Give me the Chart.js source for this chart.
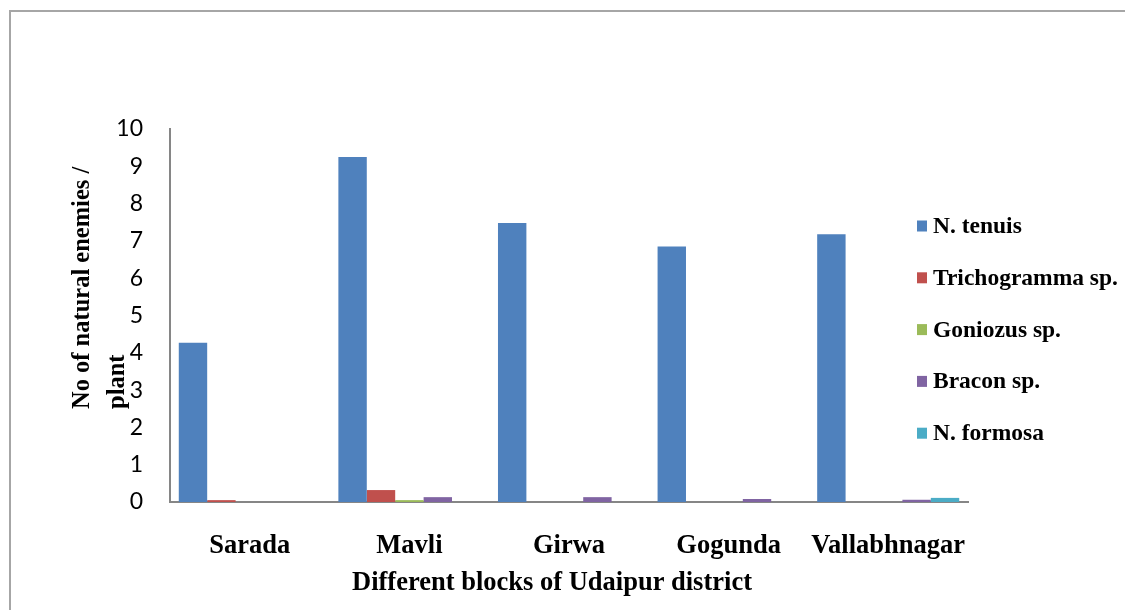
<!DOCTYPE html>
<html>
<head>
<meta charset="utf-8">
<script src="https://cdn.jsdelivr.net/npm/chart.js@4.4.0/dist/chart.umd.min.js"></script>
<style>
  html, body { margin: 0; padding: 0; background: #fff; overflow: hidden; }
  #frame { position: absolute; left: 9px; top: 10px; width: 1200px; height: 700px; border: 2px solid #a6a6a6; }
  #chart { position: absolute; left: 0; top: 0; }
</style>
</head>
<body>
<div id="frame"></div>
<canvas id="chart" width="1125" height="610"></canvas>
<script>
// ---------------------------------------------------------
// data
// ---------------------------------------------------------
const blocks = ["Sarada", "Mavli", "Girwa", "Gogunda", "Vallabhnagar"];

const nTenuis      = [4.27, 9.25, 7.48, 6.85, 7.18];
const trichogramma = [0.05, 0.32, 0, 0, 0];
const goniozus     = [0, 0.05, 0, 0, 0];
const bracon       = [0, 0.13, 0.13, 0.08, 0.06];
const nFormosa     = [0, 0, 0, 0, 0.11];

const seriesNames  = ["N. tenuis", "Trichogramma sp.", "Goniozus sp.", "Bracon sp.", "N. formosa"];
const seriesColors = ["#4F81BD", "#C0504D", "#9BBB59", "#8064A2", "#4BACC6"];
const yTicks = [0, 1, 2, 3, 4, 5, 6, 7, 8, 9, 10];

const yTitle = ["No of natural enemies /", "plant"];
const xTitle = "Different blocks of Udaipur district";

const axisGrey = "#868686";
const serif = "'Liberation Serif', 'Times New Roman', serif";

// ---------------------------------------------------------
// legend + axis titles (excel style, legend sits over plot)
// ---------------------------------------------------------
const extras = {
  id: "extras",
  afterDraw(chart) {
    const ctx = chart.ctx;
    ctx.save();
    ctx.fillStyle = "#000";

    // y title, two lines, start-aligned at the bottom
    ctx.font = "bold 24.5px " + serif;
    ctx.textAlign = "left";
    ctx.textBaseline = "middle";
    [[83, yTitle[0]], [118, yTitle[1]]].forEach(([x, t]) => {
      ctx.save();
      ctx.translate(x, 409);
      ctx.rotate(-Math.PI / 2);
      ctx.fillText(t, 0, 0);
      ctx.restore();
    });

    // x title
    ctx.font = "bold 26.5px " + serif;
    ctx.textAlign = "center";
    ctx.textBaseline = "alphabetic";
    ctx.fillText(xTitle, 552, 590);

    // legend
    ctx.font = "bold 23.5px " + serif;
    ctx.textAlign = "left";
    ctx.textBaseline = "middle";
    chart.data.datasets.forEach((ds, i) => {
      const y = 226 + i * 51.8;
      ctx.fillStyle = ds.backgroundColor;
      ctx.fillRect(917, y - 5.5, 10, 11);
      ctx.fillStyle = "#000";
      ctx.fillText(ds.label, 933, y + 1);
    });
    ctx.restore();
  }
};

const allSeries = [nTenuis, trichogramma, goniozus, bracon, nFormosa];

new Chart(document.getElementById("chart"), {
  type: "bar",
  data: {
    labels: blocks,
    datasets: allSeries.map((vals, i) => ({
      label: seriesNames[i],
      data: vals,
      backgroundColor: seriesColors[i],
      borderWidth: 0,
      categoryPercentage: 0.89,
      barPercentage: 1.0
    }))
  },
  options: {
    responsive: false,
    animation: false,
    devicePixelRatio: 1,
    layout: { padding: { left: 0, top: 129, right: 157, bottom: 0 } },
    plugins: {
      legend: { display: false },
      tooltip: { enabled: false }
    },
    scales: {
      x: {
        grid: { display: false, drawTicks: false },
        border: { display: true, color: axisGrey, width: 2 },
        ticks: {
          color: "#000",
          padding: 28,
          maxRotation: 0,
          autoSkip: false,
          font: { family: serif, size: 26.5, weight: "bold" }
        },
        afterFit(s) { s.height = 108; }
      },
      y: {
        min: 0,
        max: 10,
        afterBuildTicks(s) { s.ticks = yTicks.map(v => ({ value: v })); },
        grid: { display: false, drawTicks: false },
        border: { display: true, color: axisGrey, width: 2 },
        ticks: {
          color: "#000",
          padding: 27,
          font: { family: "Lato, 'Liberation Sans', sans-serif", size: 23 }
        },
        afterFit(s) { s.width = 170; }
      }
    }
  },
  plugins: [extras]
});
</script>
</body>
</html>
